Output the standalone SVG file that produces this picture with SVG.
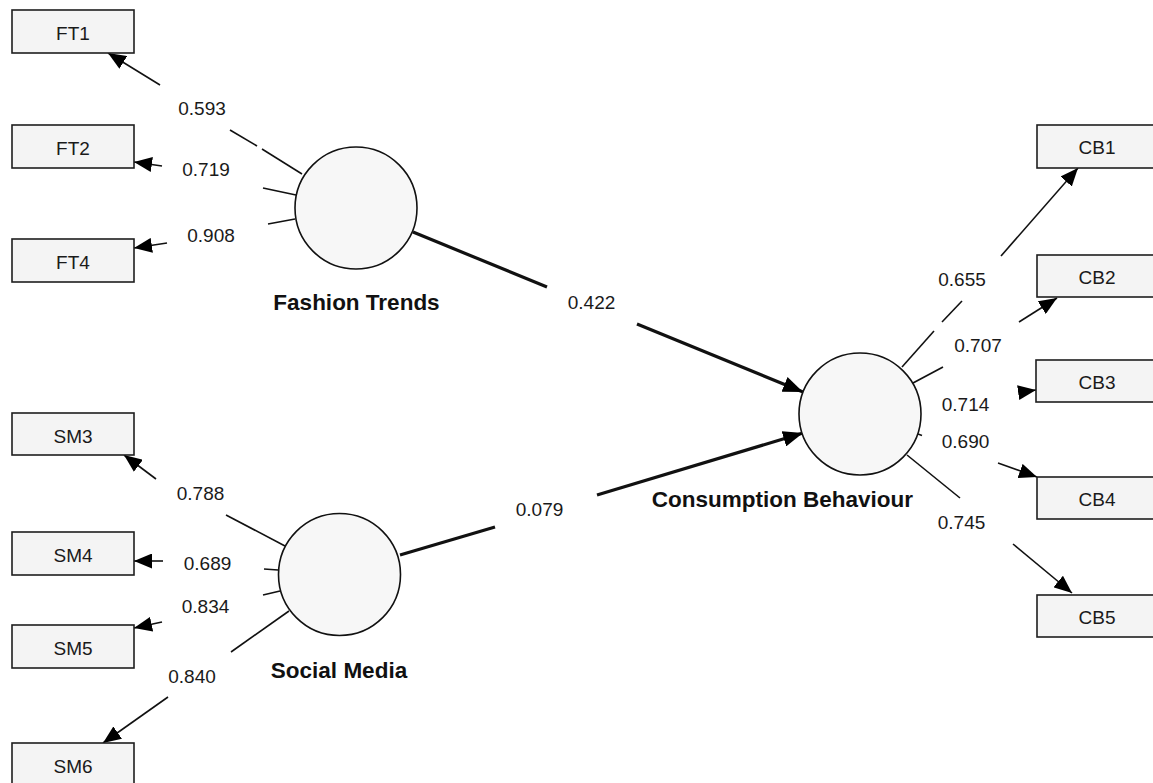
<svg xmlns="http://www.w3.org/2000/svg" width="1153" height="783" viewBox="0 0 1153 783">
<style>
.box{fill:#f4f4f4;stroke:#1e1e1e;stroke-width:1.6}
.lv{fill:#f7f7f7;stroke:#111;stroke-width:1.6}
.bt{font-family:"Liberation Sans",Arial,sans-serif;font-size:19px;fill:#1a1a1a;text-anchor:middle}
.nm{font-family:"Liberation Sans",Arial,sans-serif;font-size:22.5px;font-weight:bold;fill:#111;text-anchor:middle}
.lb{font-family:"Liberation Sans",Arial,sans-serif;font-size:19px;fill:#1a1a1a;text-anchor:middle}
.thin{stroke:#111;stroke-width:1.6;fill:none}
.thick{stroke:#111;stroke-width:3.2;fill:none}
</style>
<defs>
<marker id="ah" markerUnits="userSpaceOnUse" markerWidth="18" markerHeight="15" refX="18" refY="7.5" orient="auto"><path d="M0,0 L18,7.5 L0,15 z" fill="#000"/></marker>
<marker id="ahb" markerUnits="userSpaceOnUse" markerWidth="20" markerHeight="16" refX="20" refY="8" orient="auto"><path d="M0,0 L20,8 L0,16 z" fill="#000"/></marker>
</defs>
<rect width="1153" height="783" fill="#fff"/>
<g id="connectors">
<line class="thin" x1="160" y1="85" x2="108" y2="53" marker-end="url(#ah)"/>
<line class="thin" x1="230" y1="130" x2="257" y2="146"/>
<line class="thin" x1="262" y1="149" x2="302" y2="174"/>
<line class="thin" x1="162" y1="166" x2="134" y2="162" marker-end="url(#ah)"/>
<line class="thin" x1="263" y1="188" x2="296" y2="195"/>
<line class="thin" x1="167" y1="243" x2="134" y2="248" marker-end="url(#ah)"/>
<line class="thin" x1="268" y1="224" x2="295" y2="219"/>
<line class="thin" x1="156" y1="479" x2="124" y2="455" marker-end="url(#ah)"/>
<line class="thin" x1="226" y1="515" x2="285" y2="546"/>
<line class="thin" x1="163" y1="561" x2="134" y2="561" marker-end="url(#ah)"/>
<line class="thin" x1="264" y1="569" x2="278" y2="570"/>
<line class="thin" x1="162" y1="622" x2="134" y2="628" marker-end="url(#ah)"/>
<line class="thin" x1="263" y1="595" x2="280" y2="591"/>
<line class="thin" x1="168" y1="697" x2="103" y2="743" marker-end="url(#ah)"/>
<line class="thin" x1="231" y1="652" x2="289" y2="611"/>
<line class="thin" x1="902" y1="367" x2="934" y2="331"/>
<line class="thin" x1="942" y1="322" x2="962" y2="301"/>
<line class="thin" x1="1001" y1="256" x2="1078" y2="168" marker-end="url(#ah)"/>
<line class="thin" x1="913" y1="383" x2="943" y2="367"/>
<line class="thin" x1="1019" y1="322" x2="1057" y2="298" marker-end="url(#ah)"/>
<line class="thin" x1="1020" y1="392.3" x2="1036" y2="390" marker-end="url(#ah)"/>
<line class="thin" x1="918" y1="434" x2="922" y2="435.5"/>
<line class="thin" x1="998" y1="463" x2="1037" y2="477" marker-end="url(#ah)"/>
<line class="thin" x1="907" y1="455" x2="960" y2="498"/>
<line class="thin" x1="1013" y1="544" x2="1072" y2="593" marker-end="url(#ah)"/>
<line class="thick" x1="413" y1="232" x2="547" y2="287"/>
<line class="thick" x1="637" y1="324" x2="803" y2="392" marker-end="url(#ahb)"/>
<line class="thick" x1="400" y1="555" x2="495" y2="527"/>
<line class="thick" x1="597" y1="495" x2="803" y2="433" marker-end="url(#ahb)"/>
</g>
<g id="labels">
<text class="lb" x="202" y="115">0.593</text>
<text class="lb" x="206" y="176">0.719</text>
<text class="lb" x="211" y="242">0.908</text>
<text class="lb" x="200.5" y="500">0.788</text>
<text class="lb" x="207.5" y="570">0.689</text>
<text class="lb" x="205.5" y="613">0.834</text>
<text class="lb" x="192" y="683">0.840</text>
<text class="lb" x="962" y="286">0.655</text>
<text class="lb" x="978" y="352">0.707</text>
<text class="lb" x="965.5" y="411">0.714</text>
<text class="lb" x="965.5" y="448">0.690</text>
<text class="lb" x="961.5" y="529">0.745</text>
<text class="lb" x="591.5" y="309">0.422</text>
<text class="lb" x="539.5" y="516">0.079</text>
</g>
<g id="FT1"><rect class="box" x="12" y="10" width="122" height="43"/><text class="bt" x="73" y="40">FT1</text></g>
<g id="FT2"><rect class="box" x="12" y="125" width="122" height="43"/><text class="bt" x="73" y="155">FT2</text></g>
<g id="FT4"><rect class="box" x="12" y="239" width="122" height="43"/><text class="bt" x="73" y="269">FT4</text></g>
<g id="SM3"><rect class="box" x="12" y="413" width="122" height="42"/><text class="bt" x="73" y="443">SM3</text></g>
<g id="SM4"><rect class="box" x="12" y="532" width="122" height="43"/><text class="bt" x="73" y="562">SM4</text></g>
<g id="SM5"><rect class="box" x="12" y="625" width="122" height="43"/><text class="bt" x="73" y="655">SM5</text></g>
<g id="SM6"><rect class="box" x="12" y="743" width="122" height="43"/><text class="bt" x="73" y="773">SM6</text></g>
<g id="CB1"><rect class="box" x="1037" y="125" width="122" height="43"/><text class="bt" x="1097" y="154">CB1</text></g>
<g id="CB2"><rect class="box" x="1037" y="255" width="122" height="42"/><text class="bt" x="1097" y="284">CB2</text></g>
<g id="CB3"><rect class="box" x="1036" y="360" width="122" height="42"/><text class="bt" x="1097" y="389">CB3</text></g>
<g id="CB4"><rect class="box" x="1037" y="477" width="122" height="42"/><text class="bt" x="1097" y="506">CB4</text></g>
<g id="CB5"><rect class="box" x="1037" y="595" width="122" height="42"/><text class="bt" x="1097" y="624">CB5</text></g>
<g id="FashionTrends"><circle class="lv" cx="356" cy="208" r="61"/><text class="nm" x="356.5" y="310">Fashion Trends</text></g>
<g id="SocialMedia"><circle class="lv" cx="339.5" cy="574.5" r="61"/><text class="nm" x="339" y="678">Social Media</text></g>
<g id="ConsumptionBehaviour"><circle class="lv" cx="860" cy="414" r="61"/><text class="nm" x="782.5" y="507">Consumption Behaviour</text></g>
</svg>
